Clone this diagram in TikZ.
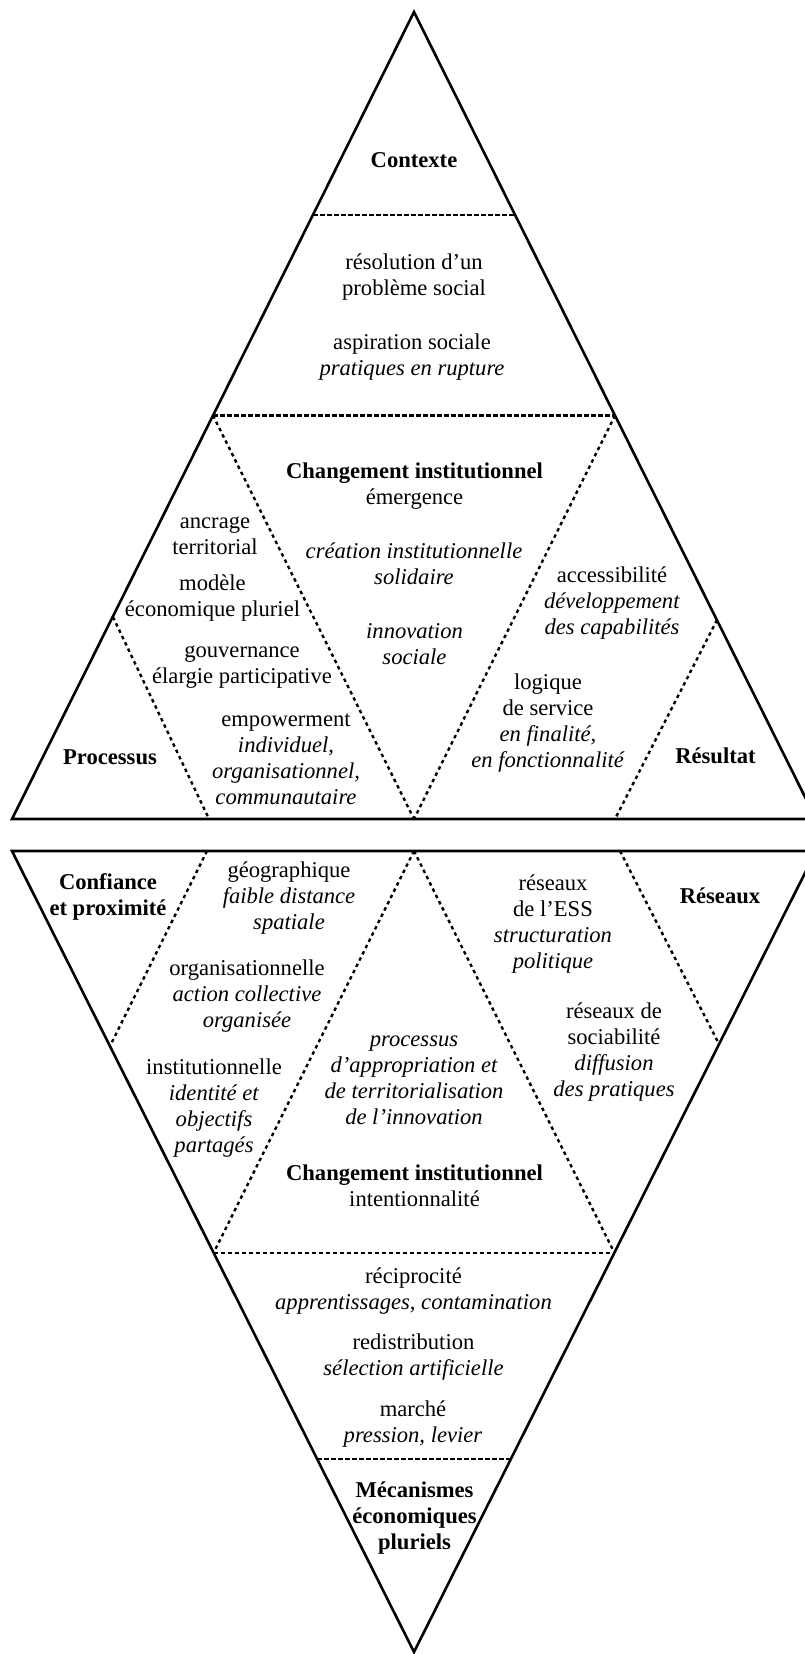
\documentclass[tikz,border=0pt]{standalone}
\usepackage{fontspec}
\setmainfont{Liberation Serif}
\begin{document}
\begin{tikzpicture}[x=1pt,y=-1pt,
  txt/.style={inner sep=0pt, align=center, font=\fontsize{22.6}{26}\selectfont},
  ttl/.style={txt, font=\fontsize{22.6}{26}\selectfont\bfseries},
  itx/.style={txt, font=\fontsize{22.6}{26}\selectfont\itshape},
  edge/.style={line width=2.6pt, line join=miter},
  dsh/.style={line width=2.4pt, dash pattern=on 4.5pt off 2.5pt},
  dotl/.style={line width=2.4pt, dash pattern=on 3.5pt off 3.5pt}]
\useasboundingbox (0,0) rectangle (805,1654);
% upper triangle
\coordinate (A) at (414,12);
\coordinate (L) at (12,819);
\coordinate (R) at (816,819);
\coordinate (ML) at (213,415.5);
\coordinate (MR) at (615,415.5);
\coordinate (MB) at (414,819);
\coordinate (T1) at (313,215);
\coordinate (T2) at (515,215);
\coordinate (QL) at (113,617);
\coordinate (QLb) at (209,819);
\coordinate (QR) at (717,620);
\coordinate (QRb) at (615,819);
\draw[edge] (A) -- (L) -- (R) -- cycle;
\draw[dsh] (T1) -- (T2);
\draw[dsh] (ML) -- (MR);
\draw[dotl] (ML) -- (MB);
\draw[dotl] (MR) -- (MB);
\draw[dotl] (QL) -- (QLb);
\draw[dotl] (QR) -- (QRb);
% lower triangle
\coordinate (L2) at (12,851);
\coordinate (R2) at (816,851);
\coordinate (B2) at (414,1652);
\coordinate (MT) at (414,851);
\coordinate (ML2) at (213.5,1253);
\coordinate (MR2) at (614.5,1253);
\coordinate (QL2) at (207,851);
\coordinate (QL2b) at (110,1046);
\coordinate (QR2) at (620,851);
\coordinate (QR2b) at (719,1044);
\coordinate (H1) at (317,1459);
\coordinate (H2) at (511,1459);
\draw[edge] (L2) -- (R2) -- (B2) -- cycle;
\draw[dsh] (ML2) -- (MR2);
\draw[dsh] (H1) -- (H2);
\draw[dotl] (MT) -- (ML2);
\draw[dotl] (MT) -- (MR2);
\draw[dotl] (QL2) -- (QL2b);
\draw[dotl] (QR2) -- (QR2b);
% upper texts
\node[ttl] (contexte) at (414,160) {Contexte};
\node[txt] (resol) at (414,277.5) {résolution d’un\\problème social};
\node[txt] (aspir) at (412,357.5) {aspiration sociale\\\textit{pratiques en rupture}};
\node[txt] (chg1) at (414.5,486) {\textbf{Changement institutionnel}\\émergence};
\node[itx] (creat) at (414,564) {création institutionnelle\\solidaire};
\node[itx] (innov) at (414.5,644) {innovation\\sociale};
\node[txt] (ancr) at (215,536) {ancrage\\territorial};
\node[txt, anchor=base] (mod1) at (212.5,590) {modèle};
\node[txt, anchor=base] (mod2) at (212.5,616) {économique pluriel};
\node[txt] (gouv) at (242,667) {gouvernance\\élargie participative};
\node[txt] (empw) at (286,759) {empowerment\\\textit{individuel,}\\\textit{organisationnel,}\\\textit{communautaire}};
\node[ttl] (proc) at (110,757) {Processus};
\node[txt] (acc) at (612,603.5) {accessibilité\\\textit{développement}\\\textit{des capabilités}};
\node[txt] (logi) at (548,723.5) {logique\\de service\\\textit{en finalité,}\\\textit{en fonctionnalité}};
\node[ttl] (resu) at (715.5,756) {Résultat};
% lower texts
\node[ttl] (conf) at (108,896.5) {Confiance\\et proximité};
\node[txt] (geo) at (289,898.5) {géographique\\\textit{faible distance}\\\textit{spatiale}};
\node[txt] (org) at (247,996.5) {organisationnelle\\\textit{action collective}\\\textit{organisée}};
\node[txt] (inst) at (214,1108) {institutionnelle\\\textit{identité et}\\\textit{objectifs}\\\textit{partagés}};
\node[txt] (ress) at (553,924) {réseaux\\de l’ESS\\\textit{structuration}\\\textit{politique}};
\node[ttl] (resx) at (720,896) {Réseaux};
\node[txt] (soc) at (614,1052.5) {réseaux de\\sociabilité\\\textit{diffusion}\\\textit{des pratiques}};
\node[itx] (appr) at (414,1080.5) {processus\\d’appropriation et\\de territorialisation\\de l’innovation};
\node[txt] (chg2) at (414.5,1185.5) {\textbf{Changement institutionnel}\\intentionnalité};
\node[txt] (reci) at (413.5,1291.5) {réciprocité\\\textit{apprentissages, contamination}};
\node[txt] (redi) at (413.5,1357.5) {redistribution\\\textit{sélection artificielle}};
\node[txt] (marc) at (413,1424.5) {marché\\\textit{pression, levier}};
\node[ttl] (meca) at (414.5,1518) {Mécanismes\\économiques\\pluriels};
\end{tikzpicture}
\end{document}
